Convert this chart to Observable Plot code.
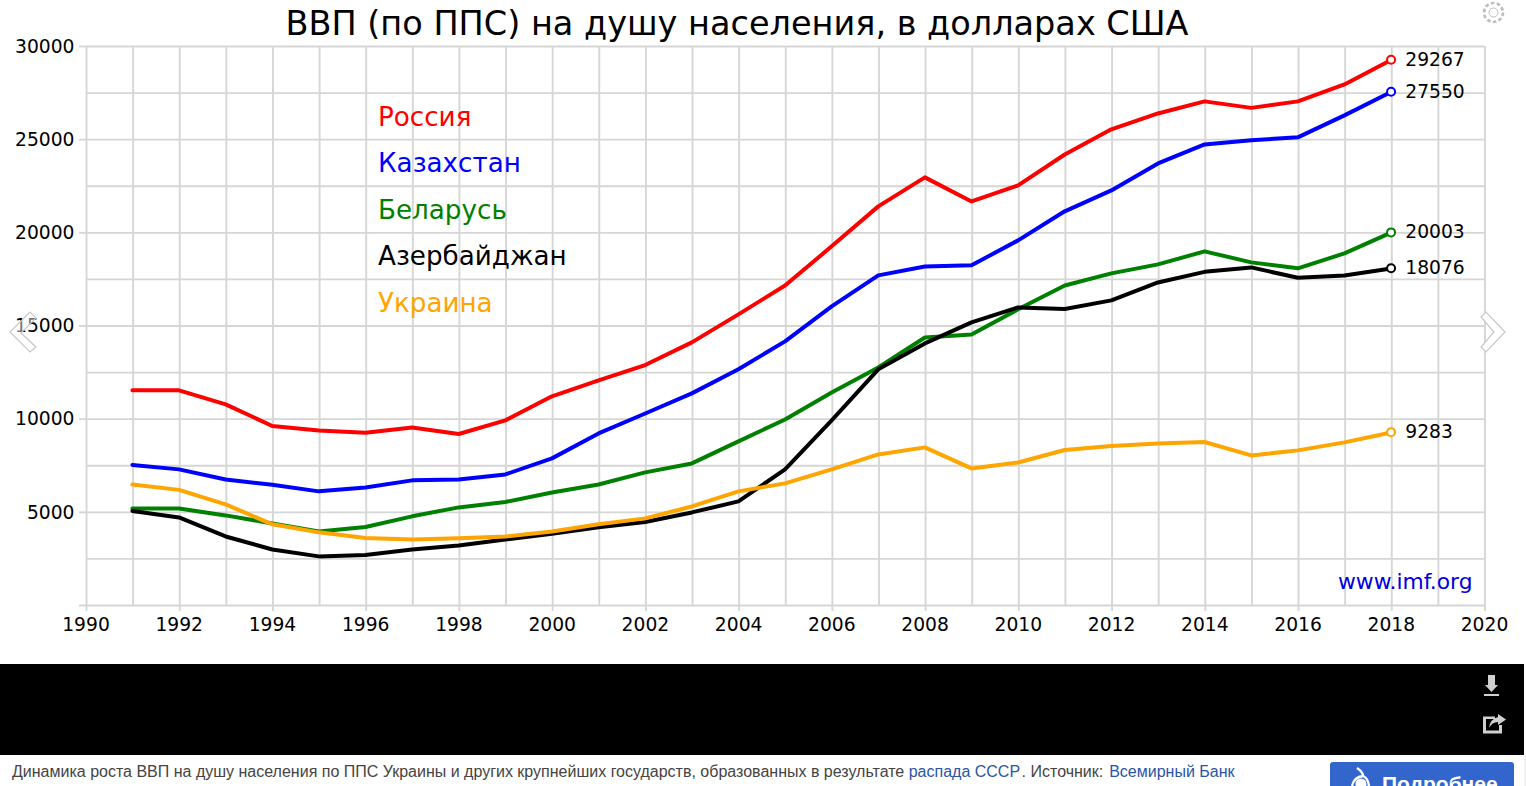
<!DOCTYPE html>
<html lang="ru"><head><meta charset="utf-8">
<script src="https://cdn.jsdelivr.net/npm/d3@7"></script>
<script src="https://cdn.jsdelivr.net/npm/@observablehq/plot@0.6"></script>
<style>
html,body{margin:0;padding:0;background:#fff;width:1526px;height:786px;overflow:hidden}
#page{position:relative;width:1526px;height:786px;overflow:hidden}
#title{height:36px;text-align:center;font:33.5px/48px "DejaVu Sans";color:#000;white-space:nowrap;width:1474px}
#chart svg{display:block;background:#fff}
#legend{position:absolute;left:378px;top:93.5px;font:26.2px/46.5px "DejaVu Sans"}
#source{position:absolute;left:1338px;top:568px;font:21.8px/28px "DejaVu Sans";color:#0000e0}
#band{position:absolute;left:0;top:664px;width:1524px;height:91px;background:#000}
#strip{position:absolute;left:1524px;top:755px;width:2px;height:31px;background:#f2f2f2}
#foot{position:absolute;left:12px;top:763px;font:16px/18px "Liberation Sans";color:#444;white-space:nowrap}
#foot span{color:#2a55a5}
#foot span.a{padding-right:1.5px}
#foot span.b{margin-left:1.5px}
#more{position:absolute;left:1330px;top:762px;width:184px;height:40px;background:#3366cc;border-radius:3px;color:#fff;font:bold 21px/44px "Liberation Sans";text-indent:52px}
.icon{position:absolute}
</style></head><body>
<div id="page">
<div id="title"></div>
<div id="chart"></div>
<div id="legend"></div>
<div id="source"></div>
<div id="band"></div>
<div id="strip"></div>
<div id="foot"></div>
<div id="more">Подробнее</div>
<svg class="icon" style="left:1348px;top:766px" width="26" height="20" viewBox="0 0 26 20" fill="none" stroke="#fff"><path d="M 9 2 Q 15 6 15 10 Q 20 12 21 20 M 15 10 Q 6 11 4 20" stroke-width="2.4"/><circle cx="13" cy="18" r="5.5" fill="#fff" stroke="none"/></svg>
<svg class="icon" style="left:1480px;top:0" width="28" height="26" viewBox="0 0 28 26" fill="none" stroke="#bdbdbd" stroke-width="1"><circle cx="13.5" cy="12.5" r="4.5"/><circle cx="13.5" cy="12.5" r="9" stroke-width="3.6" stroke-dasharray="3.4 2.25"/><circle cx="13.5" cy="12.5" r="7.2" stroke="#fff" stroke-width="2"/></svg>
<svg class="icon" style="left:8px;top:310px" width="30" height="44" viewBox="0 0 30 44" fill="rgba(255,255,255,.45)" stroke="#c8c8c8" stroke-width="1.2"><path d="M 2 22 L 22 2 L 28 8 L 13 23 L 28 37 L 22 42 Z"/></svg>
<svg class="icon" style="left:1478px;top:310px" width="30" height="44" viewBox="0 0 30 44" fill="#fff" stroke="#c8c8c8" stroke-width="1.2"><path d="M 27 22 L 8 2 L 3 7 L 16 22 L 3 37 L 8 42 Z"/></svg>
<svg class="icon" style="left:1480px;top:672px" width="24" height="26" viewBox="0 0 24 26" fill="#d0d0d0"><path d="M 8 3 H 15 V 13 H 18 L 11.5 20 L 5 13 H 8 Z M 4 22 H 19 V 24 H 4 Z"/></svg>
<svg class="icon" style="left:1481px;top:712px" width="26" height="24" viewBox="0 0 26 24" fill="#d0d0d0"><path d="M 2 4.5 H 14 V 7 H 5 V 18.5 H 18 V 13 H 21 V 21.5 H 2 Z M 17 2 L 25 7.5 L 17 13 V 10 Q 11 10 8 16 Q 9 7 17 5 Z"/></svg>
</div>
<script>
const titleText = "ВВП (по ППС) на душу населения, в долларах США";
const years = [1991,1992,1993,1994,1995,1996,1997,1998,1999,2000,2001,2002,2003,2004,2005,2006,2007,2008,2009,2010,2011,2012,2013,2014,2015,2016,2017,2018];
const russia =     [11540,11540,10790,9630,9390,9260,9550,9200,9930,11220,12075,12900,14115,15620,17170,19270,21415,22970,21680,22540,24200,25550,26400,27050,26700,27050,27960,29267];
const kazakhstan = [7540,7300,6760,6470,6120,6330,6710,6760,7030,7890,9230,10300,11380,12670,14170,16050,17710,18190,18250,19590,21150,22270,23720,24740,24960,25120,26300,27550];
const belarus =    [5200,5200,4830,4400,3970,4210,4780,5260,5550,6060,6490,7140,7620,8800,9980,11430,12770,14380,14540,15890,17170,17820,18300,19000,18410,18090,18890,20003];
const azerbaijan = [5070,4720,3700,3000,2630,2710,3000,3220,3540,3840,4190,4480,4990,5580,7300,9930,12670,14060,15190,15990,15910,16370,17330,17900,18140,17580,17710,18076];
const ukraine =    [6490,6200,5420,4350,3920,3620,3540,3600,3700,3970,4350,4670,5310,6120,6550,7300,8100,8480,7350,7670,8340,8560,8690,8770,8050,8320,8750,9283];
const seriesNames = ["Россия","Казахстан","Беларусь","Азербайджан","Украина"];
const seriesColors = ["#ff0000","#0000ff","#008000","#000000","#ffa500"];
const seriesValues = [russia,kazakhstan,belarus,azerbaijan,ukraine];
const xTicks = [1990,1992,1994,1996,1998,2000,2002,2004,2006,2008,2010,2012,2014,2016,2018,2020];
const yTicks = [0,5000,10000,15000,20000,25000,30000];
const xGrid = d3.range(1990,2021);
const yGrid = d3.range(0,30001,2500);
const sourceText = "www.imf.org";

const rows = seriesNames.flatMap((name,i)=>years.map((year,j)=>({name,year,value:seriesValues[i][j]})));
const lastRows = seriesNames.map((name,i)=>({name,year:years[years.length-1],value:seriesValues[i][years.length-1]}));
const grid = "#d6d6d6";
const fs = 18.7;

const plot = Plot.plot({
  width:1526, height:628,
  marginLeft:86, marginRight:41.5, marginTop:10, marginBottom:59,
  style:{fontFamily:"DejaVu Sans",fontSize:fs+"px",color:"#000",background:"#fff"},
  x:{domain:[1990,2020]},
  y:{domain:[0,30000]},
  color:{domain:seriesNames,range:seriesColors},
  marks:[
    Plot.ruleX(xGrid,{x:d=>d,y1:0,y2:30000,stroke:grid,strokeWidth:1.9}),
    Plot.ruleY(yGrid,{y:d=>d,x1:1990,x2:2020,stroke:grid,strokeWidth:1.9}),
    Plot.axisX({ticks:xTicks,text:null,tickSize:6,stroke:grid,strokeWidth:1.9,label:null}),
    Plot.axisX({ticks:xTicks,tickFormat:d=>String(d),tickSize:0,tickPadding:12,fill:"#000",label:null,fontSize:fs,dx:-0.5}),
    Plot.axisY({ticks:yTicks,text:null,tickSize:7,stroke:grid,strokeWidth:1.9,label:null}),
    Plot.axisY({ticks:yTicks,tickFormat:d=>d===0?"":String(d),tickSize:0,tickPadding:12,dy:0.3,fill:"#000",label:null,fontSize:fs}),
    ...seriesNames.map(n=>Plot.line(rows.filter(r=>r.name===n),{x:"year",y:"value",stroke:"name",strokeWidth:4,curve:"linear",strokeLinejoin:"round",dx:-0.7,dy:-0.1})),
    Plot.dot(lastRows,{x:"year",y:"value",stroke:"name",fill:"#fff",r:4,strokeWidth:2,dx:-0.7,dy:-0.4}),
    Plot.text(lastRows,{x:"year",y:"value",text:d=>String(d.value),textAnchor:"start",dx:13.5,dy:-0.4,fill:"#000",fontSize:fs})
  ]
});
document.getElementById("title").textContent = titleText;
document.getElementById("chart").append(plot);
document.getElementById("legend").innerHTML = seriesNames.map((n,i)=>`<div style="color:${seriesColors[i]}">${n}</div>`).join("");
document.getElementById("source").textContent = sourceText;
document.getElementById("foot").innerHTML = 'Динамика роста ВВП на душу населения по ППС Украины и других крупнейших государств, образованных в результате <span class="a">распада СССР</span>. Источник: <span class="b">Всемирный Банк</span>';
</script>
</body></html>
